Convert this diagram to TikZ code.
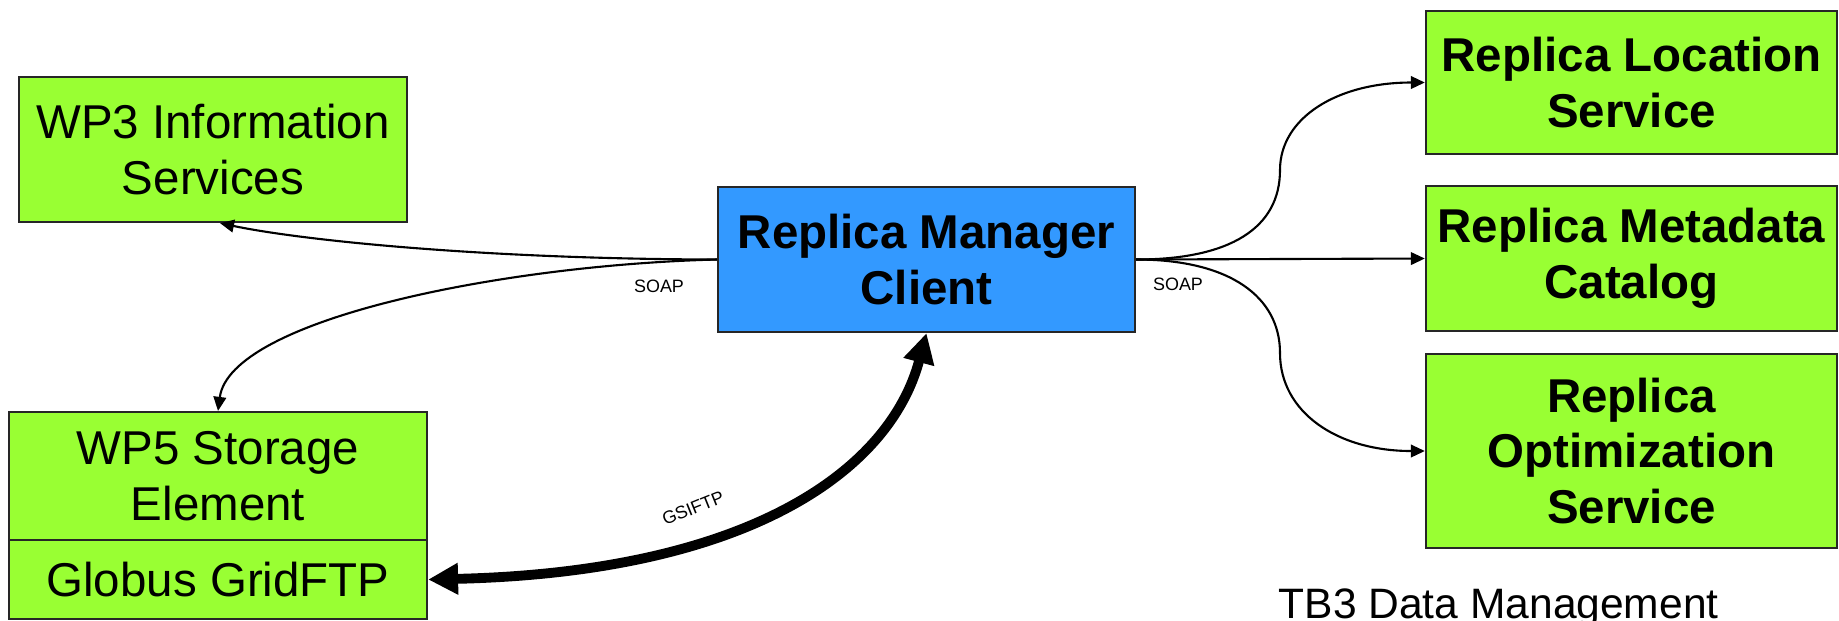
\documentclass[tikz,border=0pt]{standalone}
\usepackage{fontspec}
\setmainfont{Liberation Sans}
\usetikzlibrary{arrows.meta}
\definecolor{boxgreen}{RGB}{153,255,51}
\definecolor{boxblue}{RGB}{51,153,255}
\begin{document}
\begin{tikzpicture}[x=0.01cm,y=-0.01cm,
  box/.style={draw=black!85, line width=0.6pt, fill=boxgreen, align=center, inner sep=0pt,
    font=\fontsize{13.5}{15.9}\selectfont},
  boldbox/.style={box, font=\fontsize{13.5}{15.9}\selectfont\bfseries},
  thin/.style={line width=0.6pt, -{Triangle[length=4pt,width=3.6pt]}},
  plain/.style={line width=0.6pt},
  thick/.style={line width=2.8pt, {Triangle[length=8.5pt,width=8.5pt]}-{Triangle[length=8.5pt,width=8.5pt]}},
  lbl/.style={font=\fontsize{5.1}{6}\selectfont, inner sep=0pt}]
\useasboundingbox (0,0) rectangle (1839,620);

% nodes
\node[box, minimum width=3.88cm, minimum height=1.45cm] (wp3) at (213,149.5) {WP3 Information\\Services};
\node[box, minimum width=4.18cm, minimum height=1.28cm] (wp5) at (218,476) {WP5 Storage\\Element};
\node[box, minimum width=4.18cm, minimum height=0.79cm] (gftp) at (218,579.5) {Globus GridFTP};
\node[boldbox, fill=boxblue, minimum width=4.17cm, minimum height=1.45cm] (rmc) at (926.5,259.5) {Replica Manager\\Client};
\node[boldbox, minimum width=4.11cm, minimum height=1.43cm] (rls) at (1631.5,82.5) {Replica Location\\Service};
\node[boldbox, minimum width=4.11cm, minimum height=1.45cm] (rmd) at (1631.5,258.5) {Replica Metadata\\Catalog};
\node[boldbox, minimum width=4.11cm, minimum height=1.94cm] (ros) at (1631.5,451) {Replica\\Optimization\\Service};

\node[anchor=base west, inner sep=0pt, font=\fontsize{12.1}{14}\selectfont] (tb3) at (1278,618) {TB3 Data Management};

% labels
\node[lbl] (soapl) at (659,286.5) {SOAP};
\node[lbl] (soapr) at (1178,284) {SOAP};
\node[lbl, rotate=22] (gsi) at (693,508) {GSIFTP};

% left connectors
\draw[thin] (rmc.west) .. controls (480,259) and (300,240) .. ([xshift=0.07cm]wp3.south);
\draw[thin] (rmc.west) .. controls (500,265) and (230,320) .. (wp5.north);

% right connectors
\draw[thin] (rmc.east) .. controls +(94,0) and +(0,58) .. (1280,170)
  .. controls +(0,-52) and +(-88,0) .. (rls.west);
\draw[thin] (rmc.east) -- (rmd.west);
\draw[thin] (rmc.east) .. controls +(94,0) and +(0,-56) .. (1280,353)
  .. controls +(0,59) and +(-88,0) .. (ros.west);

% GSIFTP
\draw[thick] (gftp.east) .. controls (750,572) and (890,470) .. (rmc.south);
\end{tikzpicture}
\end{document}
